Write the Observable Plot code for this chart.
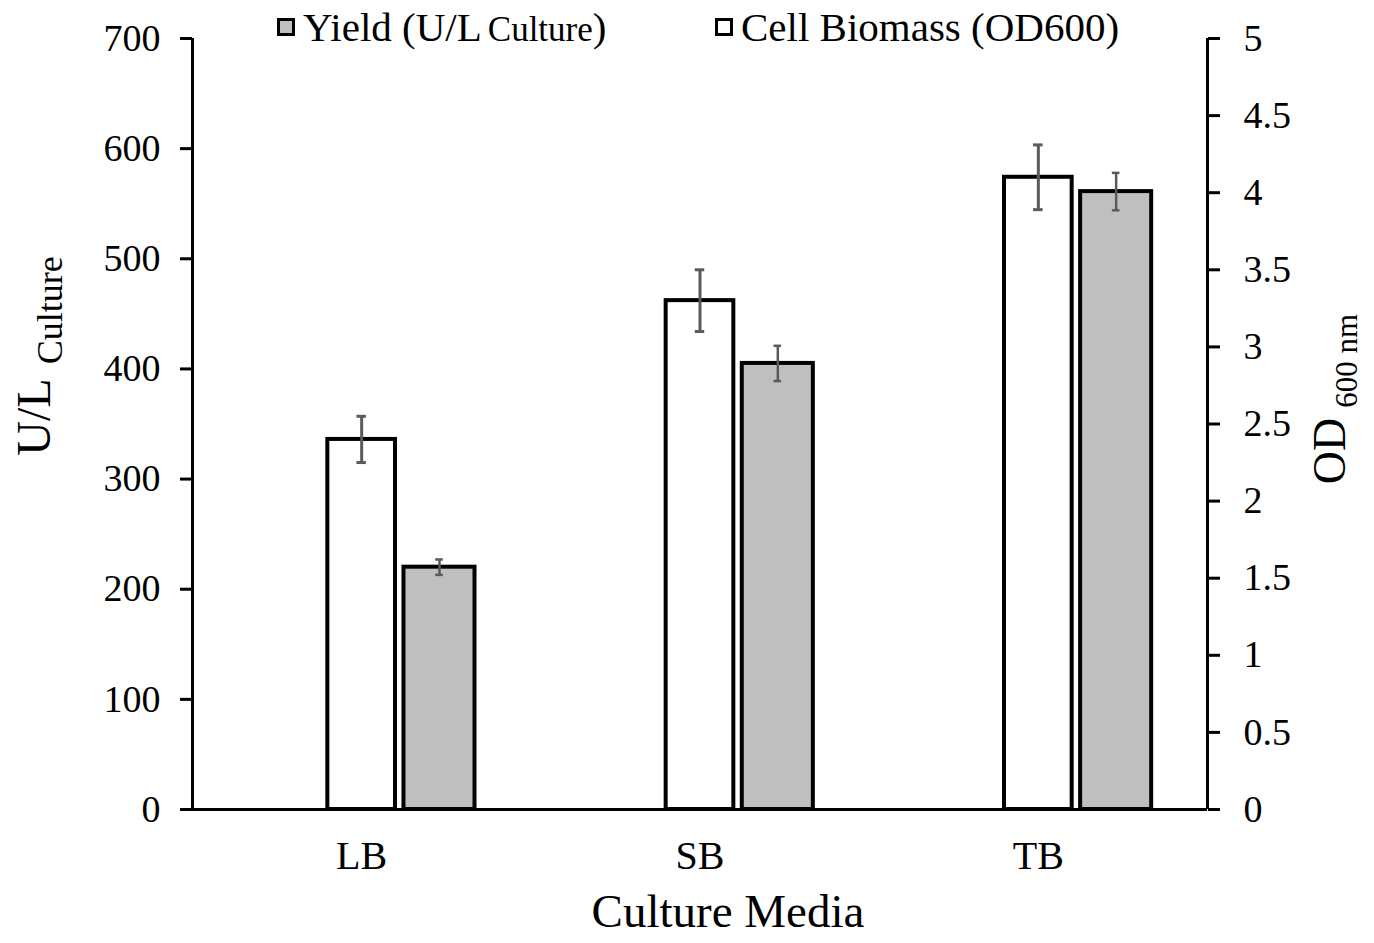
<!DOCTYPE html>
<html>
<head>
<meta charset="utf-8">
<script src="https://cdn.jsdelivr.net/npm/d3@7"></script>
<script src="https://cdn.jsdelivr.net/npm/@observablehq/plot@0.6"></script>
<style>
  html, body { margin: 0; padding: 0; background: #fff; }
  #wrap { position: relative; width: 1374px; height: 943px; font-family: "Liberation Serif", "DejaVu Serif", serif; }
  #legend { position: absolute; top: 3px; left: 0; width: 1374px; height: 48px; font-size: 41px; color: #000; }
  .li { position: absolute; top: 0; display: flex; align-items: center; white-space: nowrap; }
  .sw { width: 12px; height: 12px; border: 3px solid #000; margin-right: 8px; box-sizing: content-box; }
  .sub { font-size: 35px; margin-left: 6px; }
</style>
</head>
<body>
<div id="wrap">
  <div id="chart"></div>
  <div id="legend">
    <div class="li" style="left:277px"><span class="sw" style="background:#bfbfbf"></span><span>Yield (U/L<span class="sub">Culture</span>)</span></div>
    <div class="li" style="left:715px"><span class="sw" style="background:#fff"></span><span>Cell Biomass (OD600)</span></div>
  </div>
</div>
<script>
// ---- data ----
const media = ["LB", "SB", "TB"];
const yieldUL = [220, 405, 561];        // U/L culture (left axis)
const yieldErr = [7, 16, 17];
const biomassOD = [2.4, 3.3, 4.1];      // OD600 (right axis)
const biomassErr = [0.15, 0.2, 0.21];
const leftTicks = [0, 100, 200, 300, 400, 500, 600, 700];
const rightTicks = [0, 0.5, 1, 1.5, 2, 2.5, 3, 3.5, 4, 4.5, 5];

const odMax = 5, ulMax = 700;
const k = ulMax / odMax; // OD -> U/L scale factor for the secondary axis

const bio = media.map((m, i) => ({i, m, v: biomassOD[i] * k, lo: (biomassOD[i] - biomassErr[i]) * k, hi: (biomassOD[i] + biomassErr[i]) * k}));
const yl = media.map((m, i) => ({i, m, v: yieldUL[i], lo: yieldUL[i] - yieldErr[i], hi: yieldUL[i] + yieldErr[i]}));

// bar layout within each category (fractions of a category slot)
const wW = 0.1, gA = 0.125, gB = 0.335, cap = 0.014;
const gc = (gA + gB) / 2;

const font = "Liberation Serif, DejaVu Serif, serif";
const errColor = "#5a5a5a";

const chart = Plot.plot({
  width: 1374,
  height: 943,
  marginLeft: 192,
  marginRight: 167,
  marginTop: 38,
  marginBottom: 134,
  style: {fontFamily: font, fontSize: "38px", color: "#000", background: "#fff", overflow: "visible"},
  x: {type: "linear", domain: [-0.5, 2.5], axis: null},
  y: {domain: [0, ulMax], axis: null},
  marks: [
    // white bars: cell biomass (secondary axis)
    Plot.rect(bio, {x1: d => d.i - wW, x2: d => d.i + wW, y1: 0, y2: "v", fill: "#fff", stroke: "#000", strokeWidth: 4}),
    // gray bars: yield
    Plot.rect(yl, {x1: d => d.i + gA, x2: d => d.i + gB, y1: 0, y2: "v", fill: "#bfbfbf", stroke: "#000", strokeWidth: 4}),
    // error bars
    Plot.ruleX(bio, {x: "i", y1: "lo", y2: "hi", stroke: errColor, strokeWidth: 3}),
    Plot.ruleY(bio, {y: "lo", x1: d => d.i - cap, x2: d => d.i + cap, stroke: errColor, strokeWidth: 3}),
    Plot.ruleY(bio, {y: "hi", x1: d => d.i - cap, x2: d => d.i + cap, stroke: errColor, strokeWidth: 3}),
    Plot.ruleX(yl, {x: d => d.i + gc, y1: "lo", y2: "hi", stroke: errColor, strokeWidth: 2.5}),
    Plot.ruleY(yl, {y: "lo", x1: d => d.i + gc - cap * 0.8, x2: d => d.i + gc + cap * 0.8, stroke: errColor, strokeWidth: 2.5}),
    Plot.ruleY(yl, {y: "hi", x1: d => d.i + gc - cap * 0.8, x2: d => d.i + gc + cap * 0.8, stroke: errColor, strokeWidth: 2.5}),
    // left axis
    Plot.axisY({anchor: "left", ticks: leftTicks, tickSize: 12, tickPadding: 20, label: null, fontSize: 38, strokeWidth: 3}),
    Plot.ruleX([-0.5], {stroke: "#000", strokeWidth: 3}),
    // right axis (OD600)
    Plot.axisY({anchor: "right", ticks: rightTicks.map(t => t * k), tickFormat: d => String(+(d / k).toFixed(1)), tickSize: 12, tickPadding: 24, label: null, fontSize: 38, strokeWidth: 3}),
    Plot.ruleX([2.5], {stroke: "#000", strokeWidth: 3}),
    // baseline
    Plot.ruleY([0], {stroke: "#000", strokeWidth: 3}),
    // x labels
    Plot.axisX({ticks: [0, 1, 2], tickFormat: i => media[i], tickSize: 0, tickPadding: 31, label: null, fontSize: 40}),
  ]
});
document.getElementById("chart").appendChild(chart);

const svg = d3.select(chart);
// x-axis title
svg.append("text").attr("x", 728).attr("y", 927).attr("text-anchor", "middle")
  .attr("font-family", font).attr("font-size", 47).text("Culture Media");
// left y title
const ly = svg.append("text").attr("transform", "translate(50,356) rotate(-90)").attr("text-anchor", "middle")
  .attr("font-family", font).attr("font-size", 48);
ly.append("tspan").text("U/L");
ly.append("tspan").attr("font-size", 36).attr("dx", 14).attr("dy", 12).text("Culture");
// right y title
const ry = svg.append("text").attr("transform", "translate(1345,399) rotate(-90)").attr("text-anchor", "middle")
  .attr("font-family", font).attr("font-size", 46);
ry.append("tspan").text("OD");
ry.append("tspan").attr("font-size", 31).attr("dx", 10).attr("dy", 12).text("600 nm");
</script>
</body>
</html>
